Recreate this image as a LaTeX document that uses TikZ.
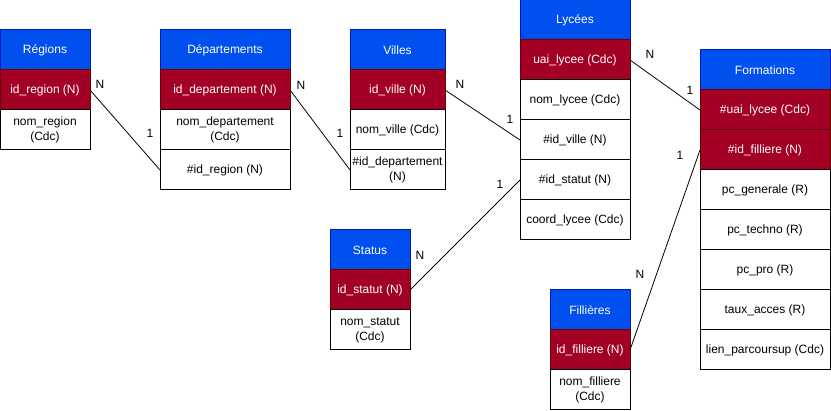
\documentclass[tikz,border=0pt]{standalone}
\usepackage{fontspec}
\setmainfont{Liberation Sans}
\definecolor{hblue}{HTML}{0050EF}
\definecolor{hblueb}{HTML}{001DBC}
\definecolor{kred}{HTML}{A20025}
\definecolor{kredb}{HTML}{6F0000}
\tikzset{
  cell/.style={draw, line width=1pt, minimum height=40pt, inner sep=0pt, outer sep=0pt,
    align=center, font=\fontsize{12}{15}\selectfont, anchor=north west},
  hdr/.style={cell, fill=hblue, draw=hblueb, text=white},
  keyc/.style={cell, fill=kred, draw=kredb, text=white},
  att/.style={cell, fill=white, draw=black},
  link/.style={draw=black, line width=0.8pt},
  card/.style={font=\fontsize{12}{14}\selectfont, inner sep=0pt}
}
\begin{document}
\begin{tikzpicture}[x=1pt,y=-1pt]
\useasboundingbox (0,0) rectangle (831,411);
% Regions
\node[hdr, minimum width=90pt] (reg) at (0,30) {Régions};
\node[keyc, minimum width=90pt] (regid) at (0,70) {id\_region (N)};
\node[att, minimum width=90pt] (regnom) at (0,110) {nom\_region\\(Cdc)};
% Departements
\node[hdr, minimum width=130pt] (dep) at (160,30) {Départements};
\node[keyc, minimum width=130pt] (depid) at (160,70) {id\_departement (N)};
\node[att, minimum width=130pt] (depnom) at (160,110) {nom\_departement\\(Cdc)};
\node[att, minimum width=130pt] (depreg) at (160,150) {\#id\_region (N)};
% Villes
\node[hdr, minimum width=95pt] (vil) at (350,30) {Villes};
\node[keyc, minimum width=95pt] (vilid) at (350,70) {id\_ville (N)};
\node[att, minimum width=95pt] (vilnom) at (350,110) {nom\_ville (Cdc)};
\node[att, minimum width=95pt] (vildep) at (350,150) {\#id\_departement\\(N)};
% Lycees
\node[hdr, minimum width=110pt] (lyc) at (520,0) {Lycées};
\node[keyc, minimum width=110pt] (lycuai) at (520,40) {uai\_lycee (Cdc)};
\node[att, minimum width=110pt] (lycnom) at (520,80) {nom\_lycee (Cdc)};
\node[att, minimum width=110pt] (lycvil) at (520,120) {\#id\_ville (N)};
\node[att, minimum width=110pt] (lycsta) at (520,160) {\#id\_statut (N)};
\node[att, minimum width=110pt] (lyccoo) at (520,200) {coord\_lycee (Cdc)};
% Formations
\node[hdr, minimum width=130pt] (for) at (700,50) {Formations};
\node[keyc, minimum width=130pt] (foruai) at (700,90) {\#uai\_lycee (Cdc)};
\node[keyc, minimum width=130pt] (forfil) at (700,130) {\#id\_filliere (N)};
\node[att, minimum width=130pt] (forgen) at (700,170) {pc\_generale (R)};
\node[att, minimum width=130pt] (fortec) at (700,210) {pc\_techno (R)};
\node[att, minimum width=130pt] (forpro) at (700,250) {pc\_pro (R)};
\node[att, minimum width=130pt] (foracc) at (700,290) {taux\_acces (R)};
\node[att, minimum width=130pt] (forlien) at (700,330) {lien\_parcoursup (Cdc)};
% Status
\node[hdr, minimum width=80pt] (sta) at (330,230) {Status};
\node[keyc, minimum width=80pt] (staid) at (330,270) {id\_statut (N)};
\node[att, minimum width=80pt] (stanom) at (330,310) {nom\_statut\\(Cdc)};
% Fillieres
\node[hdr, minimum width=80pt] (fil) at (550,290) {Fillières};
\node[keyc, minimum width=80pt] (filid) at (550,330) {id\_filliere (N)};
\node[att, minimum width=80pt] (filnom) at (550,370) {nom\_filliere\\(Cdc)};
% Links
\draw[link] (regid.east) -- (depreg.west);
\draw[link] (depid.east) -- (vildep.west);
\draw[link] (vilid.east) -- (lycvil.west);
\draw[link] (staid.east) -- (lycsta.west);
\draw[link] (lycuai.east) -- (foruai.west);
\draw[link] (filid.east) -- (forfil.west);
% Cardinalities
\node[card] (c1n) at (100,84) {N};
\node[card] (c11) at (150,133) {1};
\node[card] (c2n) at (301,85) {N};
\node[card] (c21) at (340,133) {1};
\node[card] (c3n) at (460,84) {N};
\node[card] (c31) at (510,119) {1};
\node[card] (c4n) at (420,255) {N};
\node[card] (c41) at (500,184) {1};
\node[card] (c5n) at (650,54) {N};
\node[card] (c51) at (690,90) {1};
\node[card] (c6n) at (640,274) {N};
\node[card] (c61) at (680,155) {1};
\end{tikzpicture}
\end{document}
